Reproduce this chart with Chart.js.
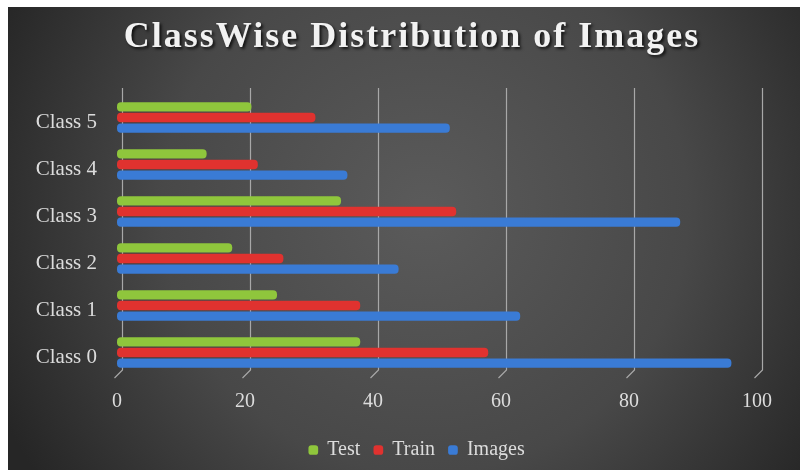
<!DOCTYPE html>
<html>
<head>
<meta charset="utf-8">
<script src="https://cdn.jsdelivr.net/npm/chart.js@4/dist/chart.umd.min.js"></script>
<style>
  html, body { margin: 0; padding: 0; background: #ffffff; }
  #wrap { width: 805px; height: 475px; position: relative; }
</style>
</head>
<body>
<div id="wrap"><canvas id="c" width="805" height="475"></canvas></div>
<script>
// Categories listed top-to-bottom as they appear in the chart
const categories = ["Class 5", "Class 4", "Class 3", "Class 2", "Class 1", "Class 0"];
const testValues   = [21, 14, 35, 18, 25, 38];
const trainValues  = [31, 22, 53, 26, 38, 58];
const imagesValues = [52, 36, 88, 44, 63, 96];
const xTicks = [0, 20, 40, 60, 80, 100];
const titleText = "ClassWise Distribution of Images";

const SERIF = '"Liberation Serif", "Times New Roman", serif';

const bgPlugin = {
  id: 'bg',
  beforeDraw(chart) {
    const ctx = chart.ctx;
    ctx.save();
    ctx.fillStyle = '#ffffff';
    ctx.fillRect(0, 0, chart.width, chart.height);
    const g = ctx.createRadialGradient(425, 210, 10, 425, 210, 470);
    g.addColorStop(0, '#5a5a5a');
    g.addColorStop(0.55, '#484848');
    g.addColorStop(1, '#262626');
    ctx.fillStyle = g;
    ctx.fillRect(8, 7, 792, 463);
    ctx.restore();
  }
};

// 3D-style vertical gridlines drawn at the x scale's tick positions
const gridPlugin = {
  id: 'grid3d',
  beforeDatasetsDraw(chart) {
    const ctx = chart.ctx;
    const xs = chart.scales.x;
    const area = chart.chartArea;
    ctx.save();
    ctx.strokeStyle = '#a8a8a8';
    ctx.lineWidth = 1.2;
    xTicks.forEach(v => {
      const px = Math.round(xs.getPixelForValue(v)) + 0.5;
      ctx.beginPath();
      ctx.moveTo(px + 5, area.top - 6);
      ctx.lineTo(px + 5, area.bottom - 6);
      ctx.lineTo(px - 3, area.bottom + 2);
      ctx.stroke();
    });
    ctx.restore();
  }
};

const titlePlugin = {
  id: 'titleText',
  afterDraw(chart) {
    const ctx = chart.ctx;
    ctx.save();
    ctx.font = 'bold 36px ' + SERIF;
    if ('letterSpacing' in ctx) ctx.letterSpacing = '2px';
    ctx.textAlign = 'center';
    ctx.textBaseline = 'alphabetic';
    ctx.shadowColor = 'rgba(0,0,0,0.75)';
    ctx.shadowOffsetX = 2;
    ctx.shadowOffsetY = 2;
    ctx.shadowBlur = 3;
    ctx.fillStyle = '#f2f2f2';
    ctx.fillText(titleText, 412, 47);
    ctx.restore();
  }
};

new Chart(document.getElementById('c'), {
  type: 'bar',
  data: {
    labels: categories,
    datasets: [
      { label: 'Test', data: testValues, backgroundColor: '#8fc63c' },
      { label: 'Train', data: trainValues, backgroundColor: '#e0322f' },
      { label: 'Images', data: imagesValues, backgroundColor: '#3a7bd5' }
    ]
  },
  options: {
    indexAxis: 'y',
    responsive: false,
    animation: false,
    layout: { padding: { left: 34, right: 5, top: 94, bottom: 5 } },
    datasets: {
      bar: { categoryPercentage: 0.68, barPercentage: 0.87, borderRadius: 4, borderSkipped: false }
    },
    scales: {
      x: {
        min: 0, max: 100,
        afterBuildTicks(scale) { scale.ticks = xTicks.map(v => ({ value: v })); },
        afterFit(scale) { scale.height = 50; },
        grid: { display: false, drawTicks: false },
        border: { display: false },
        ticks: {
          color: '#dcdcdc',
          padding: 14,
          font: { family: SERIF, size: 20 }
        }
      },
      y: {
        grid: { display: false, drawTicks: true, tickLength: 20 },
        border: { display: false },
        afterFit(scale) { scale.width = 83; },
        ticks: {
          color: '#dcdcdc',
          padding: 0,
          labelOffset: 5,
          font: { family: SERIF, size: 21 }
        }
      },
      y2: {
        type: 'linear',
        position: 'right',
        display: true,
        grid: { display: false, drawTicks: false },
        border: { display: false },
        ticks: { display: false },
        afterFit(scale) { scale.width = 43; }
      }
    },
    plugins: {
      title: { display: false },
      legend: {
        position: 'bottom',
        labels: {
          color: '#dcdcdc',
          usePointStyle: true,
          pointStyle: 'rectRounded',
          boxWidth: 8,
          boxHeight: 8,
          padding: 14,
          font: { family: SERIF, size: 20 }
        }
      },
      tooltip: { enabled: false }
    }
  },
  plugins: [bgPlugin, gridPlugin, titlePlugin]
});
</script>
</body>
</html>
